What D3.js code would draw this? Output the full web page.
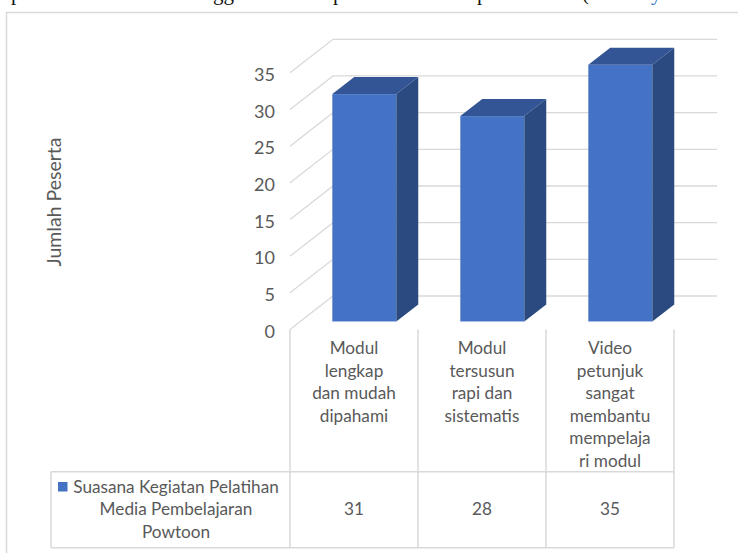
<!DOCTYPE html>
<html>
<head>
<meta charset="utf-8">
<script src="https://cdn.jsdelivr.net/npm/d3@7"></script>
<style>
  html, body { margin: 0; padding: 0; background: #fff; overflow: hidden; }
  svg { display: block; }
</style>
</head>
<body>
<div id="chart"></div>
<script>
// data
const categories = [
  'Modul\nlengkap\ndan mudah\ndipahami',
  'Modul\ntersusun\nrapi dan\nsistematis',
  'Video\npetunjuk\nsangat\nmembantu\nmempelaja\nri modul'
]
const values = [31, 28, 35]
const seriesName = ['Suasana Kegiatan Pelatihan', 'Media Pembelajaran', 'Powtoon']
const yTicks = [0, 5, 10, 15, 20, 25, 30, 35]
const yTitle = 'Jumlah Peserta'

const W = 738
const H = 553
const FONT = 'Lato, "Open Sans", sans-serif'
const GRID = '#d9d9d9'
const TEXT = '#595959'
const FS = 17.2

// plot frame (front plane) and 3d depth
const plot = { left: 290, right: 674, base: 329.5 }
const DX = 43
const DY = -33.5
const barDepth = [0.24, 0.75]

const svg = d3.select('#chart').append('svg')
  .attr('width', W)
  .attr('height', H)

// cut-off document line above the chart (only descenders visible)
const topGlyphs = [['p', 11], ['gg', 213], ['p', 333], ['p', 477], ['(', 582], ['y', 651]]
svg.append('g')
  .selectAll('text')
  .data(topGlyphs)
  .join('text')
  .attr('x', d => d[1])
  .attr('y', -0.5)
  .attr('font-family', '"Liberation Serif", serif')
  .attr('font-size', 21)
  .attr('fill', (d, i) => i === topGlyphs.length - 1 ? '#1f6fc5' : '#111')
  .text(d => d[0])

// outer chart border
svg.append('rect')
  .attr('x', 6.5)
  .attr('y', 12.5)
  .attr('width', 760)
  .attr('height', 600)
  .attr('fill', 'none')
  .attr('stroke', GRID)
  .attr('stroke-width', 1.5)

const x = d3.scaleBand()
  .domain(d3.range(categories.length))
  .range([plot.left, plot.right])
  .paddingInner(0.5)
  .paddingOuter(0.25)

const y = d3.scaleLinear()
  .domain([0, 35])
  .range([plot.base, plot.base - 256.7])

// gridlines: side wall + back wall
svg.append('g')
  .selectAll('polyline')
  .data(yTicks)
  .join('polyline')
  .attr('points', d => {
    const yf = y(d)
    return `${plot.left},${yf} ${plot.left + DX},${yf + DY} ${plot.right + DX},${yf + DY}`
  })
  .attr('fill', 'none')
  .attr('stroke', GRID)
  .attr('stroke-width', 1.3)

// y tick labels
svg.append('g')
  .selectAll('text')
  .data(yTicks)
  .join('text')
  .attr('x', 275)
  .attr('y', d => y(d) + 2)
  .attr('dy', '0.35em')
  .attr('text-anchor', 'end')
  .attr('font-family', FONT)
  .attr('font-size', 18)
  .attr('fill', TEXT)
  .text(d => d)

// y axis title
svg.append('text')
  .attr('transform', 'translate(54,202) rotate(-90)')
  .attr('dy', '0.35em')
  .attr('text-anchor', 'middle')
  .attr('font-family', FONT)
  .attr('font-size', 19.5)
  .attr('fill', TEXT)
  .text(yTitle)

// 3d bars
const bars = svg.append('g')
  .selectAll('g')
  .data(values)
  .join('g')

const fx = i => x(i) + barDepth[0] * DX
const fy = barDepth[0] * DY
const ddx = (barDepth[1] - barDepth[0]) * DX
const ddy = (barDepth[1] - barDepth[0]) * DY

bars.append('rect')
  .attr('x', (d, i) => fx(i))
  .attr('y', d => y(d) + fy)
  .attr('width', x.bandwidth())
  .attr('height', d => y(0) - y(d))
  .attr('fill', '#4472c4')

bars.append('polygon')
  .attr('points', (d, i) => {
    const x0 = fx(i)
    const x1 = x0 + x.bandwidth()
    const yt = y(d) + fy
    return `${x0},${yt} ${x1},${yt} ${x1 + ddx},${yt + ddy} ${x0 + ddx},${yt + ddy}`
  })
  .attr('fill', '#345595')

bars.append('polygon')
  .attr('points', (d, i) => {
    const x1 = fx(i) + x.bandwidth()
    const yt = y(d) + fy
    const yb = y(0) + fy
    return `${x1},${yt} ${x1 + ddx},${yt + ddy} ${x1 + ddx},${yb + ddy} ${x1},${yb}`
  })
  .attr('fill', '#2b4a80')

// data table
const table = { left: 51, top: 471.7, bottom: 547.7 }
const step = x.step()
const colEdges = d3.range(categories.length + 1).map(i => plot.left + i * step)

const lines = svg.append('g')
  .attr('stroke', GRID)
  .attr('stroke-width', 1.5)

lines.selectAll('line.col')
  .data(colEdges)
  .join('line')
  .attr('class', 'col')
  .attr('x1', d => d)
  .attr('x2', d => d)
  .attr('y1', y(0))
  .attr('y2', table.bottom)

lines.append('line')
  .attr('x1', table.left).attr('x2', plot.right)
  .attr('y1', table.top).attr('y2', table.top)
lines.append('line')
  .attr('x1', table.left).attr('x2', plot.right)
  .attr('y1', table.bottom).attr('y2', table.bottom)
lines.append('line')
  .attr('x1', table.left).attr('x2', table.left)
  .attr('y1', table.top).attr('y2', table.bottom)

// category headers
const catText = svg.append('g')
  .selectAll('text')
  .data(categories)
  .join('text')
  .attr('text-anchor', 'middle')
  .attr('font-family', FONT)
  .attr('font-size', FS)
  .attr('fill', TEXT)

catText.selectAll('tspan')
  .data((d, i) => d.split('\n').map(t => ({ t, i })))
  .join('tspan')
  .attr('x', d => plot.left + (d.i + 0.5) * step)
  .attr('y', (d, j) => 348 + j * 22.6)
  .attr('dy', '0.35em')
  .text(d => d.t)

// values row
svg.append('g')
  .selectAll('text')
  .data(values)
  .join('text')
  .attr('x', (d, i) => plot.left + (i + 0.5) * step)
  .attr('y', 509)
  .attr('dy', '0.35em')
  .attr('text-anchor', 'middle')
  .attr('font-family', FONT)
  .attr('font-size', FS)
  .attr('fill', TEXT)
  .text(d => d)

// legend cell
const legend = svg.append('g')
legend.selectAll('text')
  .data(seriesName)
  .join('text')
  .attr('x', 176)
  .attr('y', (d, i) => 486.7 + i * 22.6)
  .attr('dy', '0.35em')
  .attr('text-anchor', 'middle')
  .attr('font-family', FONT)
  .attr('font-size', FS)
  .attr('fill', TEXT)
  .text(d => d)

legend.append('rect')
  .attr('x', 58)
  .attr('y', 482)
  .attr('width', 9.5)
  .attr('height', 9.5)
  .attr('fill', '#4472c4')
</script>
</body>
</html>
